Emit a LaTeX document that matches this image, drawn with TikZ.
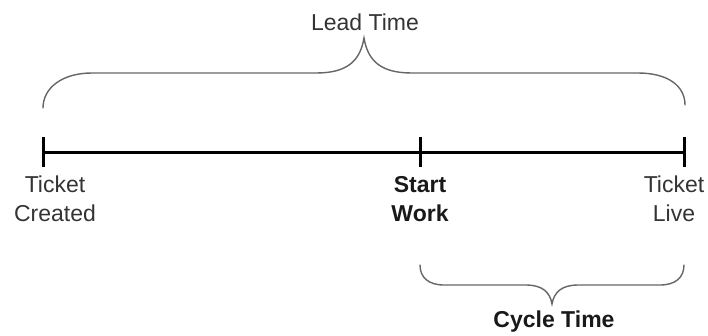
\documentclass[tikz,border=0pt]{standalone}
\usepackage{fontspec}
\setmainfont{Liberation Sans}
\begin{document}
\begin{tikzpicture}[x=1pt,y=-1pt,
  timeline/.style={line width=3pt,black},
  tick/.style={line width=3pt,black},
  bracepath/.style={line width=1.4pt,draw=black!60,line cap=round},
  label/.style={font=\fontsize{23}{29}\selectfont,text=black!80,inner sep=0pt,align=center},
  boldlabel/.style={label,font=\fontsize{23}{29}\selectfont\bfseries,text=black!90}]
\useasboundingbox (0,0) rectangle (708,335);

% timeline points
\coordinate (created) at (43,152);
\coordinate (start) at (420,152);
\coordinate (live) at (684,152);

\draw[timeline] (created) -- (live);
\foreach \p in {created,start,live}
  \draw[tick] (\p) ++(0,-15) -- ++(0,30);

% lead time brace, over the whole line
\coordinate (leadL) at (43,108);
\coordinate (leadTip) at (364,38);
\coordinate (leadR) at (685,105);
\draw[bracepath] (leadL) .. controls (43,88) and (62,73) .. (92,73)
  -- (316,73) .. controls (346,73) and (360,62) .. (leadTip)
  .. controls (368,62) and (382,73) .. (412,73)
  -- (638,73) .. controls (668,73) and (685,86) .. (leadR);

% cycle time brace, under the last segment
\coordinate (cycL) at (420,265);
\coordinate (cycTip) at (552,304);
\coordinate (cycR) at (684,265);
\draw[bracepath] (cycL) .. controls (420,277) and (428,285) .. (444,285)
  -- (526,285) .. controls (542,285) and (550,292) .. (cycTip)
  .. controls (554,292) and (562,285) .. (578,285)
  -- (660,285) .. controls (676,285) and (684,277) .. (cycR);

% labels
\node[label,anchor=base] (lead) at (365,30) {Lead Time};
\node[boldlabel,anchor=base] (cycle) at (554,327) {Cycle Time};
\node[label,anchor=north] (lcreated) at (55,176) {Ticket\\Created};
\node[boldlabel,anchor=north] (lstart) at (420,176) {Start\\Work};
\node[label,anchor=north] (llive) at (674,176) {Ticket\\Live};
\end{tikzpicture}
\end{document}
